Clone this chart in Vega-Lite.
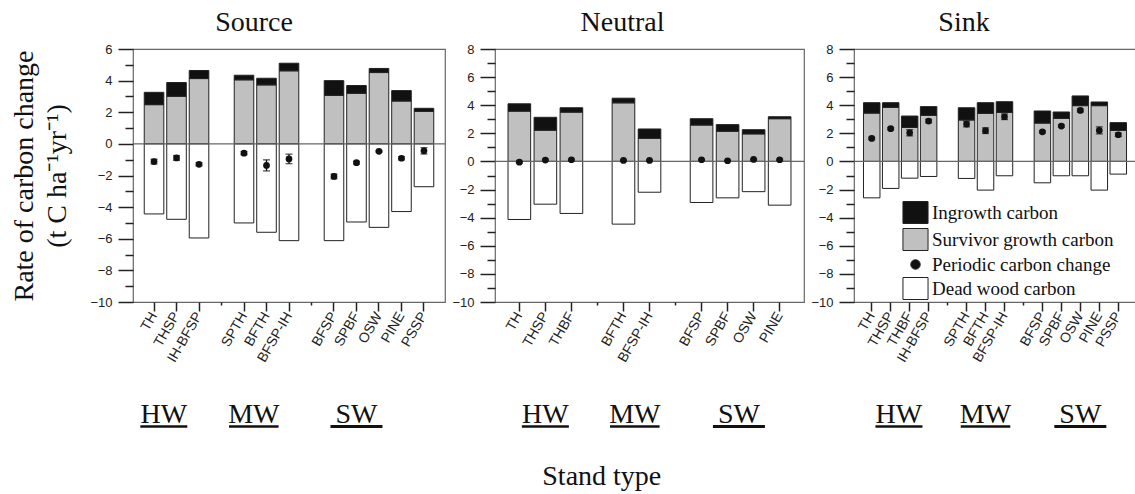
{
  "$schema": "https://vega.github.io/schema/vega-lite/v6.json",
  "background": "white",
  "padding": {"left": 10, "top": 8, "right": 0, "bottom": 0},
  "config": {
    "view": {"stroke": "#666", "strokeWidth": 1.2},
    "title": {"font": "Liberation Serif", "fontSize": 28, "fontWeight": "normal", "color": "#111"},
    "axis": {"tickColor": "#222", "tickWidth": 1.5, "domain": false, "grid": false, "labelColor": "#222", "labelFont": "Liberation Sans"}
  },
  "datasets": {
    "bars": [
      {"panel": "Source", "stand": "TH", "component": "Survivor growth carbon", "value": 2.48},
      {"panel": "Source", "stand": "TH", "component": "Ingrowth carbon", "value": 0.78},
      {"panel": "Source", "stand": "TH", "component": "Dead wood carbon", "value": -4.43},
      {"panel": "Source", "stand": "THSP", "component": "Survivor growth carbon", "value": 3.01},
      {"panel": "Source", "stand": "THSP", "component": "Ingrowth carbon", "value": 0.87},
      {"panel": "Source", "stand": "THSP", "component": "Dead wood carbon", "value": -4.77},
      {"panel": "Source", "stand": "IH-BFSP", "component": "Survivor growth carbon", "value": 4.13},
      {"panel": "Source", "stand": "IH-BFSP", "component": "Ingrowth carbon", "value": 0.51},
      {"panel": "Source", "stand": "IH-BFSP", "component": "Dead wood carbon", "value": -5.95},
      {"panel": "Source", "stand": "SPTH", "component": "Survivor growth carbon", "value": 4.05},
      {"panel": "Source", "stand": "SPTH", "component": "Ingrowth carbon", "value": 0.29},
      {"panel": "Source", "stand": "SPTH", "component": "Dead wood carbon", "value": -5.0},
      {"panel": "Source", "stand": "BFTH", "component": "Survivor growth carbon", "value": 3.73},
      {"panel": "Source", "stand": "BFTH", "component": "Ingrowth carbon", "value": 0.42},
      {"panel": "Source", "stand": "BFTH", "component": "Dead wood carbon", "value": -5.59},
      {"panel": "Source", "stand": "BFSP-IH", "component": "Survivor growth carbon", "value": 4.62},
      {"panel": "Source", "stand": "BFSP-IH", "component": "Ingrowth carbon", "value": 0.48},
      {"panel": "Source", "stand": "BFSP-IH", "component": "Dead wood carbon", "value": -6.12},
      {"panel": "Source", "stand": "BFSP", "component": "Survivor growth carbon", "value": 3.07},
      {"panel": "Source", "stand": "BFSP", "component": "Ingrowth carbon", "value": 0.93},
      {"panel": "Source", "stand": "BFSP", "component": "Dead wood carbon", "value": -6.12},
      {"panel": "Source", "stand": "SPBF", "component": "Survivor growth carbon", "value": 3.2},
      {"panel": "Source", "stand": "SPBF", "component": "Ingrowth carbon", "value": 0.49},
      {"panel": "Source", "stand": "SPBF", "component": "Dead wood carbon", "value": -4.94},
      {"panel": "Source", "stand": "OSW", "component": "Survivor growth carbon", "value": 4.51},
      {"panel": "Source", "stand": "OSW", "component": "Ingrowth carbon", "value": 0.26},
      {"panel": "Source", "stand": "OSW", "component": "Dead wood carbon", "value": -5.28},
      {"panel": "Source", "stand": "PINE", "component": "Survivor growth carbon", "value": 2.71},
      {"panel": "Source", "stand": "PINE", "component": "Ingrowth carbon", "value": 0.66},
      {"panel": "Source", "stand": "PINE", "component": "Dead wood carbon", "value": -4.28},
      {"panel": "Source", "stand": "PSSP", "component": "Survivor growth carbon", "value": 2.06},
      {"panel": "Source", "stand": "PSSP", "component": "Ingrowth carbon", "value": 0.19},
      {"panel": "Source", "stand": "PSSP", "component": "Dead wood carbon", "value": -2.71},

      {"panel": "Neutral", "stand": "TH", "component": "Survivor growth carbon", "value": 3.58},
      {"panel": "Neutral", "stand": "TH", "component": "Ingrowth carbon", "value": 0.52},
      {"panel": "Neutral", "stand": "TH", "component": "Dead wood carbon", "value": -4.13},
      {"panel": "Neutral", "stand": "THSP", "component": "Survivor growth carbon", "value": 2.22},
      {"panel": "Neutral", "stand": "THSP", "component": "Ingrowth carbon", "value": 0.92},
      {"panel": "Neutral", "stand": "THSP", "component": "Dead wood carbon", "value": -3.04},
      {"panel": "Neutral", "stand": "THBF", "component": "Survivor growth carbon", "value": 3.51},
      {"panel": "Neutral", "stand": "THBF", "component": "Ingrowth carbon", "value": 0.31},
      {"panel": "Neutral", "stand": "THBF", "component": "Dead wood carbon", "value": -3.7},
      {"panel": "Neutral", "stand": "BFTH", "component": "Survivor growth carbon", "value": 4.17},
      {"panel": "Neutral", "stand": "BFTH", "component": "Ingrowth carbon", "value": 0.33},
      {"panel": "Neutral", "stand": "BFTH", "component": "Dead wood carbon", "value": -4.46},
      {"panel": "Neutral", "stand": "BFSP-IH", "component": "Survivor growth carbon", "value": 1.65},
      {"panel": "Neutral", "stand": "BFSP-IH", "component": "Ingrowth carbon", "value": 0.66},
      {"panel": "Neutral", "stand": "BFSP-IH", "component": "Dead wood carbon", "value": -2.19},
      {"panel": "Neutral", "stand": "BFSP", "component": "Survivor growth carbon", "value": 2.59},
      {"panel": "Neutral", "stand": "BFSP", "component": "Ingrowth carbon", "value": 0.45},
      {"panel": "Neutral", "stand": "BFSP", "component": "Dead wood carbon", "value": -2.92},
      {"panel": "Neutral", "stand": "SPBF", "component": "Survivor growth carbon", "value": 2.15},
      {"panel": "Neutral", "stand": "SPBF", "component": "Ingrowth carbon", "value": 0.47},
      {"panel": "Neutral", "stand": "SPBF", "component": "Dead wood carbon", "value": -2.59},
      {"panel": "Neutral", "stand": "OSW", "component": "Survivor growth carbon", "value": 1.96},
      {"panel": "Neutral", "stand": "OSW", "component": "Ingrowth carbon", "value": 0.3},
      {"panel": "Neutral", "stand": "OSW", "component": "Dead wood carbon", "value": -2.15},
      {"panel": "Neutral", "stand": "PINE", "component": "Survivor growth carbon", "value": 3.04},
      {"panel": "Neutral", "stand": "PINE", "component": "Ingrowth carbon", "value": 0.14},
      {"panel": "Neutral", "stand": "PINE", "component": "Dead wood carbon", "value": -3.11},

      {"panel": "Sink", "stand": "TH", "component": "Survivor growth carbon", "value": 3.44},
      {"panel": "Sink", "stand": "TH", "component": "Ingrowth carbon", "value": 0.74},
      {"panel": "Sink", "stand": "TH", "component": "Dead wood carbon", "value": -2.59},
      {"panel": "Sink", "stand": "THSP", "component": "Survivor growth carbon", "value": 3.85},
      {"panel": "Sink", "stand": "THSP", "component": "Ingrowth carbon", "value": 0.33},
      {"panel": "Sink", "stand": "THSP", "component": "Dead wood carbon", "value": -1.92},
      {"panel": "Sink", "stand": "THBF", "component": "Survivor growth carbon", "value": 2.42},
      {"panel": "Sink", "stand": "THBF", "component": "Ingrowth carbon", "value": 0.81},
      {"panel": "Sink", "stand": "THBF", "component": "Dead wood carbon", "value": -1.19},
      {"panel": "Sink", "stand": "IH-BFSP", "component": "Survivor growth carbon", "value": 3.28},
      {"panel": "Sink", "stand": "IH-BFSP", "component": "Ingrowth carbon", "value": 0.62},
      {"panel": "Sink", "stand": "IH-BFSP", "component": "Dead wood carbon", "value": -1.07},
      {"panel": "Sink", "stand": "SPTH", "component": "Survivor growth carbon", "value": 2.95},
      {"panel": "Sink", "stand": "SPTH", "component": "Ingrowth carbon", "value": 0.87},
      {"panel": "Sink", "stand": "SPTH", "component": "Dead wood carbon", "value": -1.21},
      {"panel": "Sink", "stand": "BFTH", "component": "Survivor growth carbon", "value": 3.42},
      {"panel": "Sink", "stand": "BFTH", "component": "Ingrowth carbon", "value": 0.76},
      {"panel": "Sink", "stand": "BFTH", "component": "Dead wood carbon", "value": -2.04},
      {"panel": "Sink", "stand": "BFSP-IH", "component": "Survivor growth carbon", "value": 3.49},
      {"panel": "Sink", "stand": "BFSP-IH", "component": "Ingrowth carbon", "value": 0.76},
      {"panel": "Sink", "stand": "BFSP-IH", "component": "Dead wood carbon", "value": -1.02},
      {"panel": "Sink", "stand": "BFSP", "component": "Survivor growth carbon", "value": 2.73},
      {"panel": "Sink", "stand": "BFSP", "component": "Ingrowth carbon", "value": 0.86},
      {"panel": "Sink", "stand": "BFSP", "component": "Dead wood carbon", "value": -1.52},
      {"panel": "Sink", "stand": "SPBF", "component": "Survivor growth carbon", "value": 3.06},
      {"panel": "Sink", "stand": "SPBF", "component": "Ingrowth carbon", "value": 0.46},
      {"panel": "Sink", "stand": "SPBF", "component": "Dead wood carbon", "value": -1.02},
      {"panel": "Sink", "stand": "OSW", "component": "Survivor growth carbon", "value": 3.97},
      {"panel": "Sink", "stand": "OSW", "component": "Ingrowth carbon", "value": 0.69},
      {"panel": "Sink", "stand": "OSW", "component": "Dead wood carbon", "value": -1.02},
      {"panel": "Sink", "stand": "PINE", "component": "Survivor growth carbon", "value": 3.97},
      {"panel": "Sink", "stand": "PINE", "component": "Ingrowth carbon", "value": 0.26},
      {"panel": "Sink", "stand": "PINE", "component": "Dead wood carbon", "value": -2.04},
      {"panel": "Sink", "stand": "PSSP", "component": "Survivor growth carbon", "value": 2.21},
      {"panel": "Sink", "stand": "PSSP", "component": "Ingrowth carbon", "value": 0.55},
      {"panel": "Sink", "stand": "PSSP", "component": "Dead wood carbon", "value": -0.9}
    ],
    "points": [
      {"panel": "Source", "stand": "TH", "change": -1.12, "lo": -1.27, "hi": -0.97},
      {"panel": "Source", "stand": "THSP", "change": -0.89, "lo": -1.04, "hi": -0.74},
      {"panel": "Source", "stand": "IH-BFSP", "change": -1.29, "lo": -1.39, "hi": -1.19},
      {"panel": "Source", "stand": "SPTH", "change": -0.59, "lo": -0.69, "hi": -0.49},
      {"panel": "Source", "stand": "BFTH", "change": -1.36, "lo": -1.71, "hi": -1.01},
      {"panel": "Source", "stand": "BFSP-IH", "change": -0.95, "lo": -1.25, "hi": -0.65},
      {"panel": "Source", "stand": "BFSP", "change": -2.06, "lo": -2.21, "hi": -1.91},
      {"panel": "Source", "stand": "SPBF", "change": -1.19, "lo": -1.27, "hi": -1.11},
      {"panel": "Source", "stand": "OSW", "change": -0.47, "lo": -0.52, "hi": -0.42},
      {"panel": "Source", "stand": "PINE", "change": -0.91, "lo": -1.01, "hi": -0.81},
      {"panel": "Source", "stand": "PSSP", "change": -0.44, "lo": -0.64, "hi": -0.24},

      {"panel": "Neutral", "stand": "TH", "change": -0.05, "lo": -0.12, "hi": 0.02},
      {"panel": "Neutral", "stand": "THSP", "change": 0.1, "lo": 0.04, "hi": 0.16},
      {"panel": "Neutral", "stand": "THBF", "change": 0.12, "lo": 0.07, "hi": 0.17},
      {"panel": "Neutral", "stand": "BFTH", "change": 0.07, "lo": 0.03, "hi": 0.11},
      {"panel": "Neutral", "stand": "BFSP-IH", "change": 0.07, "lo": 0.03, "hi": 0.11},
      {"panel": "Neutral", "stand": "BFSP", "change": 0.12, "lo": 0.08, "hi": 0.16},
      {"panel": "Neutral", "stand": "SPBF", "change": 0.05, "lo": 0.01, "hi": 0.09},
      {"panel": "Neutral", "stand": "OSW", "change": 0.14, "lo": 0.1, "hi": 0.18},
      {"panel": "Neutral", "stand": "PINE", "change": 0.12, "lo": 0.08, "hi": 0.16},

      {"panel": "Sink", "stand": "TH", "change": 1.64, "lo": 1.56, "hi": 1.72},
      {"panel": "Sink", "stand": "THSP", "change": 2.33, "lo": 2.25, "hi": 2.41},
      {"panel": "Sink", "stand": "THBF", "change": 2.04, "lo": 1.82, "hi": 2.26},
      {"panel": "Sink", "stand": "IH-BFSP", "change": 2.87, "lo": 2.75, "hi": 2.99},
      {"panel": "Sink", "stand": "SPTH", "change": 2.66, "lo": 2.46, "hi": 2.86},
      {"panel": "Sink", "stand": "BFTH", "change": 2.19, "lo": 1.99, "hi": 2.39},
      {"panel": "Sink", "stand": "BFSP-IH", "change": 3.18, "lo": 2.98, "hi": 3.38},
      {"panel": "Sink", "stand": "BFSP", "change": 2.11, "lo": 2.03, "hi": 2.19},
      {"panel": "Sink", "stand": "SPBF", "change": 2.52, "lo": 2.44, "hi": 2.6},
      {"panel": "Sink", "stand": "OSW", "change": 3.63, "lo": 3.53, "hi": 3.73},
      {"panel": "Sink", "stand": "PINE", "change": 2.21, "lo": 1.96, "hi": 2.46},
      {"panel": "Sink", "stand": "PSSP", "change": 1.9, "lo": 1.78, "hi": 2.02}
    ]
  },
  "title": {"text": "Stand type", "orient": "bottom", "anchor": "middle", "offset": 33, "dx": 28, "baseline": "top"},
  "spacing": 50,
  "bounds": "flush",
  "resolve": {"scale": {"color": "independent", "size": "independent"}},
  "hconcat": [
    {
      "width": 312,
      "height": 253,
      "title": {"text": "Source", "anchor": "middle", "frame": "group", "dx": -35, "offset": 6, "baseline": "top"},
      "resolve": {"axis": {"x": "independent", "y": "independent"}},
      "layer": [
        {
          "data": {"name": "bars"},
          "transform": [{"filter": "datum.panel === 'Source'"}],
          "mark": {"type": "bar", "stroke": "#222", "strokeWidth": 1},
          "encoding": {
            "x": {"field": "stand", "type": "nominal",
              "scale": {"domain": ["TH", "THSP", "IH-BFSP", "gap1", "SPTH", "BFTH", "BFSP-IH", "gap2", "BFSP", "SPBF", "OSW", "PINE", "PSSP"], "paddingInner": 0.13, "paddingOuter": 0.5},
              "axis": {"orient": "bottom", "title": null, "values": ["TH", "THSP", "IH-BFSP", "SPTH", "BFTH", "BFSP-IH", "BFSP", "SPBF", "OSW", "PINE", "PSSP"],
                "labelAngle": -60, "labelFontSize": 14, "labelPadding": 2, "tickSize": 9}},
            "y": {"field": "value", "type": "quantitative", "stack": "zero",
              "scale": {"domain": [-10, 6], "nice": false, "zero": false},
              "axis": {"orient": "left", "title": ["Rate of carbon change", "(t C ha⁻¹yr⁻¹)"], "values": [-10, -8, -6, -4, -2, 0, 2, 4, 6],
                "tickSize": 15, "labelFontSize": 13, "labelPadding": 6,
                "titleFont": "Liberation Serif", "titleFontSize": 28, "titleFontWeight": "normal", "titleColor": "#111", "titlePadding": 18, "titleLineHeight": 33}},
            "color": {"field": "component", "type": "nominal",
              "scale": {"domain": ["Ingrowth carbon", "Survivor growth carbon", "Periodic carbon change", "Dead wood carbon"], "range": ["#111111", "#c0c0c0", "#111111", "#ffffff"]},
              "legend": null},
            "order": {"field": "component", "sort": "descending"}
          }
        },
        {
          "data": {"values": [{}]},
          "mark": {"type": "rule", "color": "#666", "strokeWidth": 1.2},
          "encoding": {"y": {"datum": 0, "axis": {"orient": "left", "title": null, "labels": false, "tickSize": 8, "values": [-9, -7, -5, -3, -1, 1, 3, 5]}}}
        },
        {
          "data": {"name": "points"},
          "transform": [{"filter": "datum.panel === 'Source'"}],
          "layer": [
            {"mark": {"type": "errorbar", "ticks": {"size": 7}, "color": "#111", "thickness": 1.3},
             "encoding": {"x": {"field": "stand", "type": "nominal", "axis": null}, "y": {"field": "lo", "type": "quantitative", "axis": null}, "y2": {"field": "hi"}}},
            {"mark": {"type": "circle", "size": 45, "color": "#111", "opacity": 1},
             "encoding": {"x": {"field": "stand", "type": "nominal", "axis": null}, "y": {"field": "change", "type": "quantitative", "axis": null}}}
          ]
        },
        {
          "data": {"values": [{"label": "HW", "stand": "TH"}, {"label": "MW", "stand": "SPTH"}]},
          "encoding": {"x": {"field": "stand", "type": "nominal", "bandPosition": 1,
              "axis": {"orient": "bottom", "title": null, "labels": false, "tickSize": 3, "values": ["gap1", "gap2"]}},
            "y": {"datum": -10, "axis": null}},
          "layer": [
            {"mark": {"type": "text", "font": "Liberation Serif", "fontSize": 28, "baseline": "alphabetic", "dy": 121, "color": "#111"}, "encoding": {"text": {"field": "label"}}},
            {"mark": {"type": "point", "shape": "M-1,-0.055H1V0.055H-1Z", "filled": true, "opacity": 1, "yOffset": 124.5, "color": "#111"},
             "encoding": {"size": {"field": "label", "type": "ordinal", "scale": {"domain": ["HW", "MW", "SW"], "range": [2209, 2704, 1849]}, "legend": null}}}
          ]
        },
        {
          "data": {"values": [{"label": "SW", "stand": "SPBF"}]},
          "encoding": {"x": {"field": "stand", "type": "nominal", "bandPosition": 0.5, "axis": null}, "y": {"datum": -10, "axis": null}},
          "layer": [
            {"mark": {"type": "text", "font": "Liberation Serif", "fontSize": 28, "baseline": "alphabetic", "dy": 121, "color": "#111"}, "encoding": {"text": {"field": "label"}}},
            {"mark": {"type": "point", "shape": "M-1,-0.055H1V0.055H-1Z", "filled": true, "opacity": 1, "yOffset": 124.5, "color": "#111"},
             "encoding": {"size": {"field": "label", "type": "ordinal", "scale": {"domain": ["HW", "MW", "SW"], "range": [2209, 2704, 1849]}, "legend": null}}}
          ]
        }
      ]
    },
    {
      "width": 309,
      "height": 253,
      "title": {"text": "Neutral", "anchor": "middle", "frame": "group", "dx": -27, "offset": 6, "baseline": "top"},
      "resolve": {"axis": {"x": "independent", "y": "independent"}},
      "layer": [
        {
          "data": {"name": "bars"},
          "transform": [{"filter": "datum.panel === 'Neutral'"}],
          "mark": {"type": "bar", "stroke": "#222", "strokeWidth": 1},
          "encoding": {
            "x": {"field": "stand", "type": "nominal",
              "scale": {"domain": ["TH", "THSP", "THBF", "gap1", "BFTH", "BFSP-IH", "gap2", "BFSP", "SPBF", "OSW", "PINE"], "paddingInner": 0.13, "paddingOuter": 0.5},
              "axis": {"orient": "bottom", "title": null, "values": ["TH", "THSP", "THBF", "BFTH", "BFSP-IH", "BFSP", "SPBF", "OSW", "PINE"],
                "labelAngle": -60, "labelFontSize": 14, "labelPadding": 2, "tickSize": 9}},
            "y": {"field": "value", "type": "quantitative", "stack": "zero",
              "scale": {"domain": [-10, 8], "nice": false, "zero": false},
              "axis": {"orient": "left", "title": null, "values": [-10, -8, -6, -4, -2, 0, 2, 4, 6, 8], "tickSize": 15, "labelFontSize": 13, "labelPadding": 6}},
            "color": {"field": "component", "type": "nominal",
              "scale": {"domain": ["Ingrowth carbon", "Survivor growth carbon", "Periodic carbon change", "Dead wood carbon"], "range": ["#111111", "#c0c0c0", "#111111", "#ffffff"]},
              "legend": null},
            "order": {"field": "component", "sort": "descending"}
          }
        },
        {
          "data": {"values": [{}]},
          "mark": {"type": "rule", "color": "#666", "strokeWidth": 1.2},
          "encoding": {"y": {"datum": 0, "axis": {"orient": "left", "title": null, "labels": false, "tickSize": 8, "values": [-9, -7, -5, -3, -1, 1, 3, 5, 7]}}}
        },
        {
          "data": {"name": "points"},
          "transform": [{"filter": "datum.panel === 'Neutral'"}],
          "layer": [
            {"mark": {"type": "errorbar", "ticks": {"size": 7}, "color": "#111", "thickness": 1.3},
             "encoding": {"x": {"field": "stand", "type": "nominal", "axis": null}, "y": {"field": "lo", "type": "quantitative", "axis": null}, "y2": {"field": "hi"}}},
            {"mark": {"type": "circle", "size": 45, "color": "#111", "opacity": 1},
             "encoding": {"x": {"field": "stand", "type": "nominal", "axis": null}, "y": {"field": "change", "type": "quantitative", "axis": null}}}
          ]
        },
        {
          "data": {"values": [{"label": "HW", "stand": "THSP"}]},
          "encoding": {"x": {"field": "stand", "type": "nominal", "bandPosition": 0.5,
              "axis": {"orient": "bottom", "title": null, "labels": false, "tickSize": 3, "values": ["gap1", "gap2"]}},
            "y": {"datum": -10, "axis": null}},
          "layer": [
            {"mark": {"type": "text", "font": "Liberation Serif", "fontSize": 28, "baseline": "alphabetic", "dy": 121, "color": "#111"}, "encoding": {"text": {"field": "label"}}},
            {"mark": {"type": "point", "shape": "M-1,-0.055H1V0.055H-1Z", "filled": true, "opacity": 1, "yOffset": 124.5, "color": "#111"},
             "encoding": {"size": {"field": "label", "type": "ordinal", "scale": {"domain": ["HW", "MW", "SW"], "range": [2209, 2704, 1849]}, "legend": null}}}
          ]
        },
        {
          "data": {"values": [{"label": "MW", "stand": "BFTH"}, {"label": "SW", "stand": "SPBF"}]},
          "encoding": {"x": {"field": "stand", "type": "nominal", "bandPosition": 1, "axis": null}, "y": {"datum": -10, "axis": null}},
          "layer": [
            {"mark": {"type": "text", "font": "Liberation Serif", "fontSize": 28, "baseline": "alphabetic", "dy": 121, "color": "#111"}, "encoding": {"text": {"field": "label"}}},
            {"mark": {"type": "point", "shape": "M-1,-0.055H1V0.055H-1Z", "filled": true, "opacity": 1, "yOffset": 124.5, "color": "#111"},
             "encoding": {"size": {"field": "label", "type": "ordinal", "scale": {"domain": ["HW", "MW", "SW"], "range": [2209, 2704, 1849]}, "legend": null}}}
          ]
        }
      ]
    },
    {
      "width": 282,
      "height": 253,
      "title": {"text": "Sink", "anchor": "middle", "frame": "group", "dx": -31, "offset": 6, "baseline": "top"},
      "resolve": {"axis": {"x": "independent", "y": "independent"}},
      "layer": [
        {
          "data": {"name": "bars"},
          "transform": [{"filter": "datum.panel === 'Sink'"}],
          "mark": {"type": "bar", "stroke": "#222", "strokeWidth": 1},
          "encoding": {
            "x": {"field": "stand", "type": "nominal",
              "scale": {"domain": ["TH", "THSP", "THBF", "IH-BFSP", "gap1", "SPTH", "BFTH", "BFSP-IH", "gap2", "BFSP", "SPBF", "OSW", "PINE", "PSSP"], "paddingInner": 0.13, "paddingOuter": 0.5},
              "axis": {"orient": "bottom", "title": null, "values": ["TH", "THSP", "THBF", "IH-BFSP", "SPTH", "BFTH", "BFSP-IH", "BFSP", "SPBF", "OSW", "PINE", "PSSP"],
                "labelAngle": -60, "labelFontSize": 14, "labelPadding": 2, "tickSize": 9}},
            "y": {"field": "value", "type": "quantitative", "stack": "zero",
              "scale": {"domain": [-10, 8], "nice": false, "zero": false},
              "axis": {"orient": "left", "title": null, "values": [-10, -8, -6, -4, -2, 0, 2, 4, 6, 8], "tickSize": 15, "labelFontSize": 13, "labelPadding": 6}},
            "color": {"field": "component", "type": "nominal",
              "scale": {"domain": ["Ingrowth carbon", "Survivor growth carbon", "Periodic carbon change", "Dead wood carbon"], "range": ["#111111", "#c0c0c0", "#111111", "#ffffff"]},
              "legend": {"orient": "none", "legendX": 50, "legendY": 152, "title": null, "labelFont": "Liberation Serif", "labelFontSize": 19, "labelColor": "#111", "labelOffset": 5, "labelLimit": 400,
                "rowPadding": 0, "symbolSize": 484, "symbolStrokeColor": "#222", "symbolStrokeWidth": 1, "symbolType": "square",
                "encode": {"symbols": {"update": {
                  "shape": {"signal": "datum.value === 'Periodic carbon change' ? 'circle' : 'M-1.14,-1H1.14V1H-1.14Z'"},
                  "size": {"signal": "datum.value === 'Periodic carbon change' ? 90 : 484"}
                }}}}},
            "order": {"field": "component", "sort": "descending"}
          }
        },
        {
          "data": {"values": [{}]},
          "mark": {"type": "rule", "color": "#666", "strokeWidth": 1.2},
          "encoding": {"y": {"datum": 0, "axis": {"orient": "left", "title": null, "labels": false, "tickSize": 8, "values": [-9, -7, -5, -3, -1, 1, 3, 5, 7]}}}
        },
        {
          "data": {"name": "points"},
          "transform": [{"filter": "datum.panel === 'Sink'"}],
          "layer": [
            {"mark": {"type": "errorbar", "ticks": {"size": 7}, "color": "#111", "thickness": 1.3},
             "encoding": {"x": {"field": "stand", "type": "nominal", "axis": null}, "y": {"field": "lo", "type": "quantitative", "axis": null}, "y2": {"field": "hi"}}},
            {"mark": {"type": "circle", "size": 45, "color": "#111", "opacity": 1},
             "encoding": {"x": {"field": "stand", "type": "nominal", "axis": null}, "y": {"field": "change", "type": "quantitative", "axis": null}}}
          ]
        },
        {
          "data": {"values": [{"label": "HW", "stand": "THSP"}]},
          "encoding": {"x": {"field": "stand", "type": "nominal", "bandPosition": 1,
              "axis": {"orient": "bottom", "title": null, "labels": false, "tickSize": 3, "values": ["gap1", "gap2"]}},
            "y": {"datum": -10, "axis": null}},
          "layer": [
            {"mark": {"type": "text", "font": "Liberation Serif", "fontSize": 28, "baseline": "alphabetic", "dy": 121, "color": "#111"}, "encoding": {"text": {"field": "label"}}},
            {"mark": {"type": "point", "shape": "M-1,-0.055H1V0.055H-1Z", "filled": true, "opacity": 1, "yOffset": 124.5, "color": "#111"},
             "encoding": {"size": {"field": "label", "type": "ordinal", "scale": {"domain": ["HW", "MW", "SW"], "range": [2209, 2704, 1849]}, "legend": null}}}
          ]
        },
        {
          "data": {"values": [{"label": "MW", "stand": "BFTH"}, {"label": "SW", "stand": "OSW"}]},
          "encoding": {"x": {"field": "stand", "type": "nominal", "bandPosition": 0.5, "axis": null}, "y": {"datum": -10, "axis": null}},
          "layer": [
            {"mark": {"type": "text", "font": "Liberation Serif", "fontSize": 28, "baseline": "alphabetic", "dy": 121, "color": "#111"}, "encoding": {"text": {"field": "label"}}},
            {"mark": {"type": "point", "shape": "M-1,-0.055H1V0.055H-1Z", "filled": true, "opacity": 1, "yOffset": 124.5, "color": "#111"},
             "encoding": {"size": {"field": "label", "type": "ordinal", "scale": {"domain": ["HW", "MW", "SW"], "range": [2209, 2704, 1849]}, "legend": null}}}
          ]
        }
      ]
    }
  ]
}
